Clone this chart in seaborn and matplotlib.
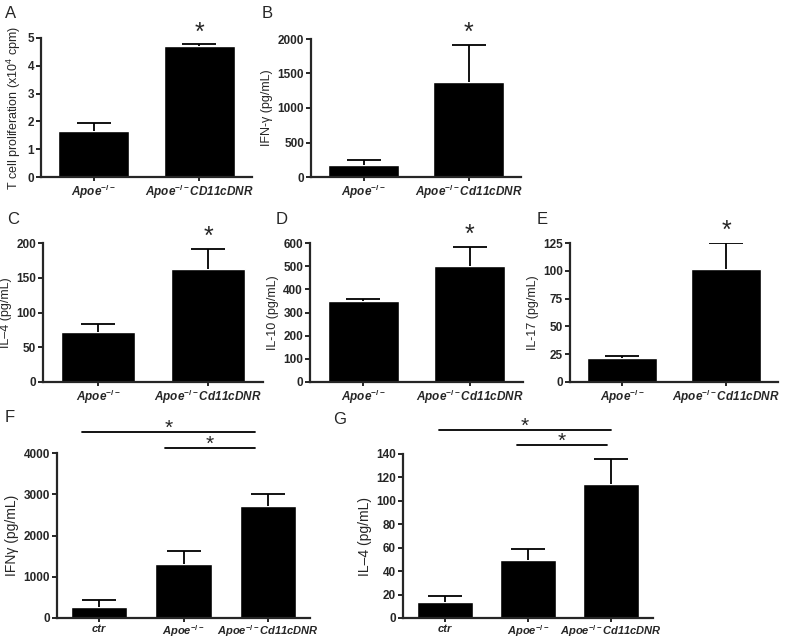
# ── CYTOKINE / PROLIFERATION BAR PANELS ─────────────────────────────
# Seven small bar charts (A-G), mean + upper SEM bar, black bars

import numpy as np
import matplotlib.pyplot as plt
import matplotlib.transforms as mtransforms
import seaborn as sns

sns.set_style('ticks')
plt.rcParams['font.family'] = ['Liberation Sans', 'DejaVu Sans']
plt.rcParams['mathtext.fontset'] = 'custom'
plt.rcParams['mathtext.rm'] = 'Liberation Sans'
plt.rcParams['mathtext.it'] = 'Liberation Sans:italic:bold'
plt.rcParams['mathtext.bf'] = 'Liberation Sans:bold'

# ── DATA ──────────────────────────────────────────────────────────────
groups_ab    = ['Apoe$^{\\mathbf{-/-}}$', 'Apoe$^{\\mathbf{-/-}}$CD11cDNR']
groups_two   = ['Apoe$^{\\mathbf{-/-}}$', 'Apoe$^{\\mathbf{-/-}}$Cd11cDNR']
groups_three = ['ctr', 'Apoe$^{\\mathbf{-/-}}$', 'Apoe$^{\\mathbf{-/-}}$Cd11cDNR']

prolif_mean = [1.66, 4.73]
prolif_err  = [0.28, 0.04]

ifng_b_mean = [175, 1375]
ifng_b_err  = [70, 540]

il4_c_mean = [72, 162]
il4_c_err  = [11, 30]

il10_mean = [349, 501]
il10_err  = [10, 82]

il17_mean = [21.5, 102]
il17_err  = [1.8, 23]

ifng_f_mean = [265, 1305, 2705]
ifng_f_err  = [175, 315, 300]

il4_g_mean = [13.5, 49.3, 114.4]
il4_g_err  = [5.7, 9.3, 21.4]

fig = plt.figure(figsize=(7.9, 6.42), dpi=100)
W, H = 790, 642


def px_axes(x0, x1, ytop, ybot):
    # axes placed by pixel box of the plotting area
    return fig.add_axes([x0 / W, 1 - ybot / H, (x1 - x0) / W, (ybot - ytop) / H])


def bar_panel(ax, labels, means, errs, ymax, ystep, ylabel, star=True,
              starsize=18, ticksize=8.5, xticksize=8.5, ylabsize=9):
    sns.barplot(x=labels, y=means, color='black', saturation=1, width=0.67, ax=ax)
    # only the upper half of the error bar is shown (GraphPad style)
    eb = ax.errorbar(range(len(means)), means, yerr=[np.zeros(len(errs)), errs],
                     fmt='none', ecolor='black', elinewidth=1.3, capsize=12.5, capthick=1.3)
    eb[1][0].set_visible(False)   # hide the lower cap sitting on the bar top
    ax.set_xlim(-0.5, len(means) - 0.5)
    ax.set_ylim(0, ymax)
    ax.set_yticks(np.arange(0, ymax + ystep / 2, ystep))
    ax.set_ylabel(ylabel, fontsize=ylabsize, labelpad=3)
    ax.set_xlabel('')
    for s in ['left', 'bottom']:
        ax.spines[s].set_linewidth(1.6)
    sns.despine(ax=ax)
    ax.tick_params(axis='y', length=3.5, width=1.4, labelsize=ticksize, pad=1.5)
    ax.tick_params(axis='x', length=3, width=1.4, labelsize=xticksize, pad=1)
    for t in ax.get_yticklabels():
        t.set_fontweight('bold')
    for t in ax.get_xticklabels():
        t.set_fontweight('bold')
        t.set_fontstyle('italic')
    if star:
        top = means[-1] + errs[-1]
        ax.annotate('*', xy=(len(means) - 1, top), xytext=(0, 0),
                    textcoords='offset points', ha='center', va='bottom',
                    fontsize=starsize, annotation_clip=False)


def sig_bracket(ax, i, j, yfrac, dx0, dx1, starsize=15):
    trans = mtransforms.blended_transform_factory(ax.transData, ax.transAxes)
    ax.plot([i + dx0, j + dx1], [yfrac, yfrac], color='black', lw=1.3,
            transform=trans, clip_on=False)
    ax.text((i + dx0 + j + dx1) / 2, yfrac - 0.035, '*', ha='center', va='bottom',
            fontsize=starsize, transform=trans)


# ── A: T cell proliferation ──────────────────────────────────────────
axA = px_axes(41, 252, 38, 177)
bar_panel(axA, groups_ab, prolif_mean, prolif_err, 5, 1,
          'T cell proliferation (x10$^{\\mathrm{4}}$ cpm)')

# ── B: IFN-gamma ──────────────────────────────────────────────────────
axB = px_axes(311, 521, 39, 177)
bar_panel(axB, groups_two, ifng_b_mean, ifng_b_err, 2000, 500, 'IFN-γ (pg/mL)')

# ── C / D / E: IL-4, IL-10, IL-17 ────────────────────────────────────
axC = px_axes(43, 263, 243, 382)
bar_panel(axC, groups_two, il4_c_mean, il4_c_err, 200, 50, 'IL–4 (pg/mL)')

axD = px_axes(310, 523, 243, 382)
bar_panel(axD, groups_two, il10_mean, il10_err, 600, 100, 'IL-10 (pg/mL)')

axE = px_axes(570, 778, 243, 382)
bar_panel(axE, groups_two, il17_mean, il17_err, 125, 25, 'IL-17 (pg/mL)')

# ── F / G: three groups with comparison brackets ─────────────────────
axF = px_axes(57, 310, 453, 618)
bar_panel(axF, groups_three, ifng_f_mean, ifng_f_err, 4000, 1000, 'IFNγ (pg/mL)',
          star=False, xticksize=8, ylabsize=10)
sig_bracket(axF, 0, 2, 1.125, -0.2, -0.15)
sig_bracket(axF, 1, 2, 1.03, -0.22, -0.15)

axG = px_axes(403, 653, 454, 618)
bar_panel(axG, groups_three, il4_g_mean, il4_g_err, 140, 20, 'IL–4 (pg/mL)',
          star=False, xticksize=8, ylabsize=10)
sig_bracket(axG, 0, 2, 1.145, -0.07, -0.01)
sig_bracket(axG, 1, 2, 1.055, -0.13, -0.05)

# ── panel letters ─────────────────────────────────────────────────────
letters = ['A', 'B', 'C', 'D', 'E', 'F', 'G']
letter_px = [(5, 13), (262, 13), (7, 220), (276, 220), (537, 220), (5, 418), (333, 420)]
for lab, (lx, ly) in zip(letters, letter_px):
    fig.text(lx / W, 1 - ly / H, lab, fontsize=12, ha='left', va='center')

plt.savefig('out.png', dpi=100)
